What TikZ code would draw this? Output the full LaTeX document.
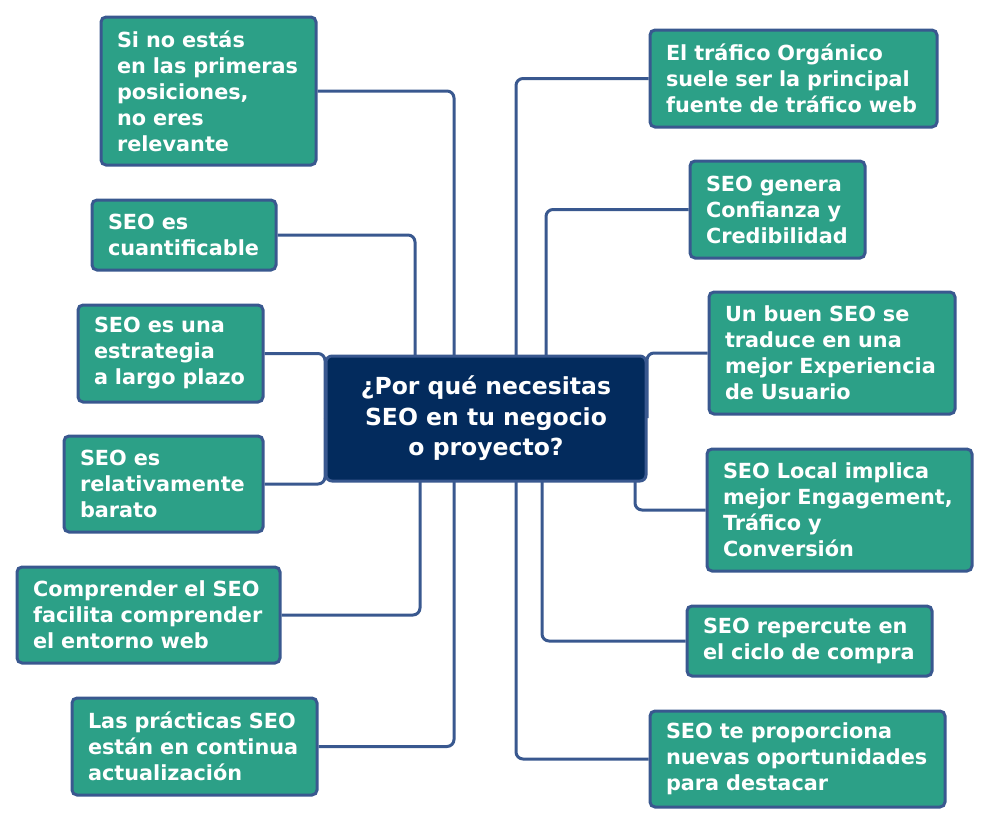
\documentclass[tikz,border=0pt]{standalone}
\usepackage{fontspec}
\setmainfont{DejaVu Sans}
\usetikzlibrary{calc}
\definecolor{leafgreen}{RGB}{44,160,135}
\definecolor{edgeblue}{RGB}{57,88,143}
\definecolor{navy}{RGB}{3,43,93}
\tikzset{
  leaf/.style={draw=edgeblue, line width=3pt, fill=leafgreen, rounded corners=5pt,
    text=white, align=left, inner xsep=16pt, inner ysep=0pt,
    font=\fontsize{20.8pt}{26pt}\selectfont\bfseries},
  hub/.style={draw=edgeblue, line width=3pt, fill=navy, rounded corners=6pt,
    text=white, align=center, inner sep=0pt,
    font=\fontsize{23.5pt}{30.5pt}\selectfont\bfseries},
  conn/.style={draw=edgeblue, line width=3pt, rounded corners=7pt}
}
\newcommand\leafnode[6]{%
  \pgfmathsetmacro\lw{#4-#2}\pgfmathsetmacro\lh{#5-#3}\pgfmathsetmacro\tw{#4-#2-32}%
  \node[leaf, minimum width=\lw pt, minimum height=\lh pt, text width=\tw pt]
    (#1) at ({(#2+#4)/2},{(#3+#5)/2}) {#6};}
\begin{document}
\begin{tikzpicture}[x=1pt,y=-1pt]
\useasboundingbox[fill=white] (0,0) rectangle (989,825);
% connectors' coordinates
\coordinate (t1) at (454,356);
\coordinate (t2) at (415,356);
\coordinate (t7) at (516,356);
\coordinate (t8) at (546,356);
\coordinate (b5) at (420,481);
\coordinate (b6) at (454,481);
\coordinate (b10) at (635,481);
\coordinate (b11) at (542,481);
\coordinate (b12) at (516,481);
\coordinate (l3) at (325,418);
\coordinate (r9) at (647,418);
\node[hub, minimum width=320pt, minimum height=125pt] (c) at (486,418.5)
  {¿Por qué necesitas\\SEO en tu negocio\\o proyecto?};
\leafnode{n1}{101}{17}{316}{165}{Si no estás\\en las primeras\\posiciones,\\no eres\\relevante}
\leafnode{n2}{92}{200}{276}{270}{SEO es\\cuantificable}
\leafnode{n3}{78}{305}{263}{402}{SEO es una\\estrategia\\a largo plazo}
\leafnode{n4}{64}{436}{263}{532}{SEO es\\relativamente\\barato}
\leafnode{n5}{17}{567}{280}{663}{Comprender el SEO\\facilita comprender\\el entorno web}
\leafnode{n6}{72}{698}{317}{795}{Las prácticas SEO\\están en continua\\actualización}
\leafnode{n7}{650}{30}{937}{127}{El tráfico Orgánico\\suele ser la principal\\fuente de tráfico web}
\leafnode{n8}{690}{161}{865}{258}{SEO genera\\Confianza y\\Credibilidad}
\leafnode{n9}{709}{292}{955}{414}{Un buen SEO se\\traduce en una\\mejor Experiencia\\de Usuario}
\leafnode{n10}{707}{449}{972}{571}{SEO Local implica\\mejor Engagement,\\Tráfico y\\Conversión}
\leafnode{n11}{687}{606}{932}{676}{SEO repercute en\\el ciclo de compra}
\leafnode{n12}{650}{711}{945}{807}{SEO te proporciona\\nuevas oportunidades\\para destacar}
% connectors
\draw[conn] (n1.east) -| (t1);
\draw[conn] (n2.east) -| (t2);
\draw[conn] (n3.east) -| (l3);
\draw[conn] (n4.east) -| (l3);
\draw[conn] (n5.east) -| (b5);
\draw[conn] (n6.east) -| (b6);
\draw[conn] (n7.west) -| (t7);
\draw[conn] (n8.west) -| (t8);
\draw[conn] (n9.west) -| (r9);
\draw[conn] (n10.west) -| (b10);
\draw[conn] (n11.west) -| (b11);
\draw[conn] (n12.west) -| (b12);
\end{tikzpicture}
\end{document}
